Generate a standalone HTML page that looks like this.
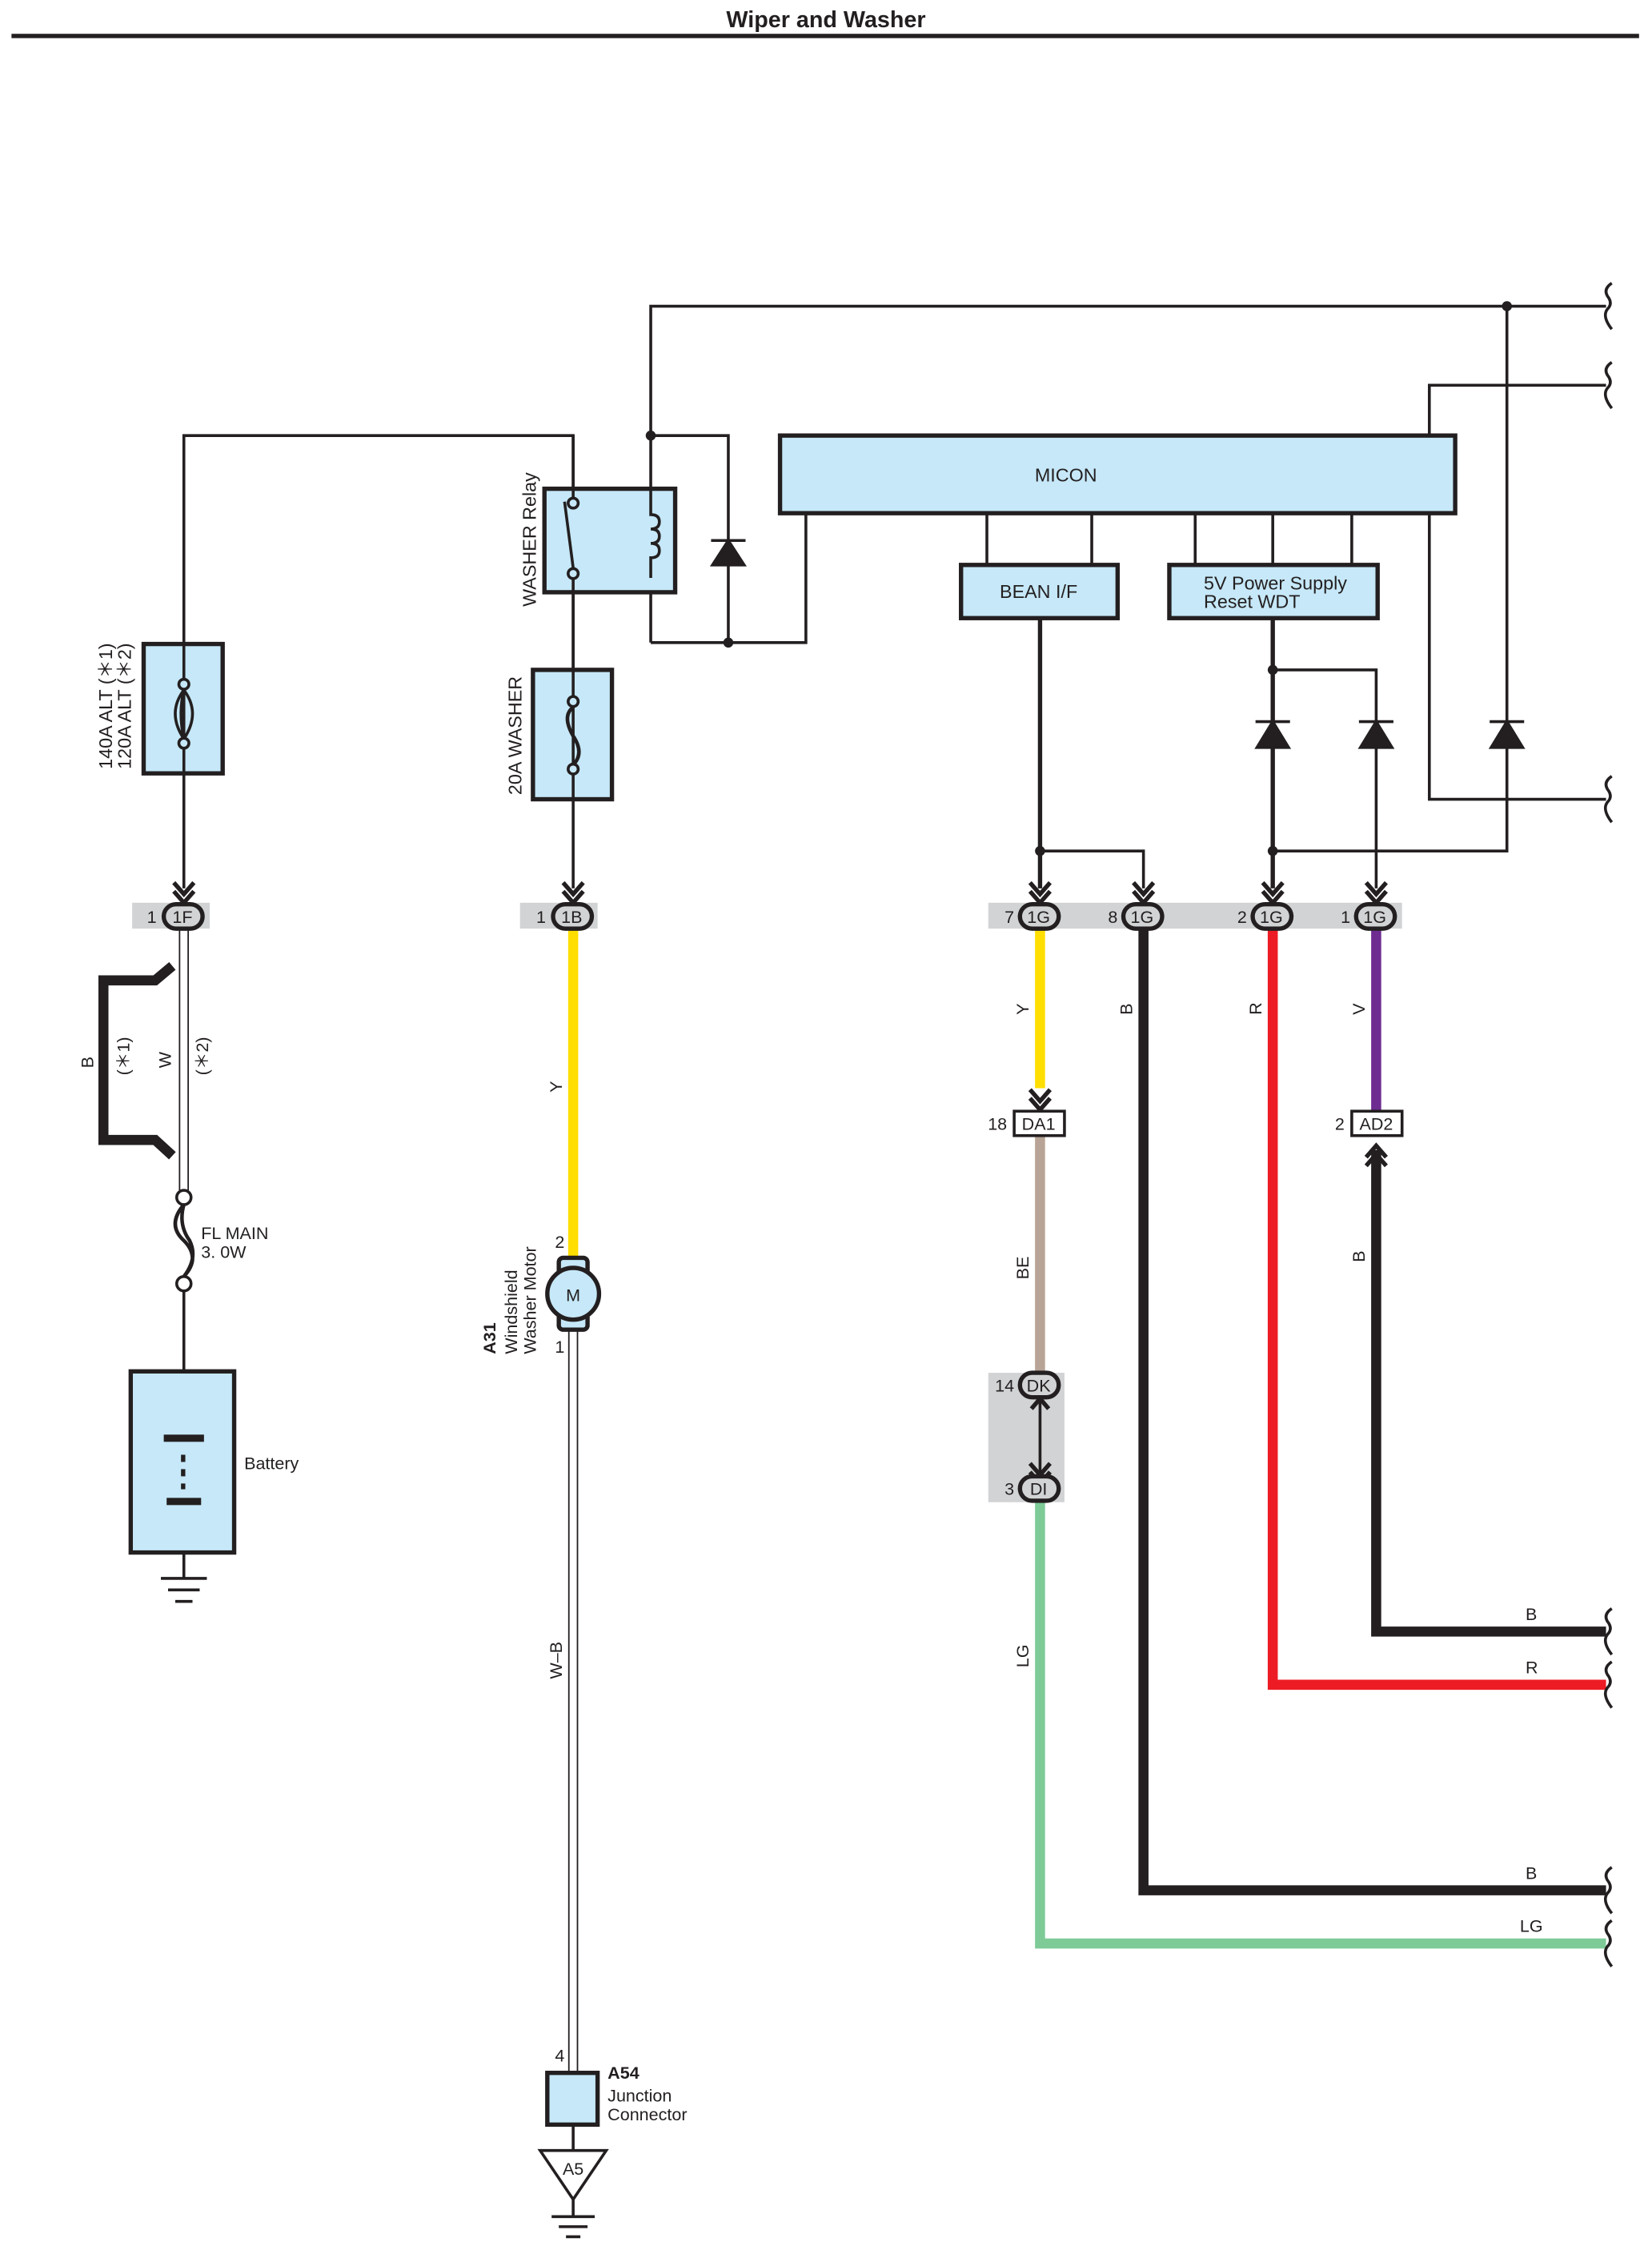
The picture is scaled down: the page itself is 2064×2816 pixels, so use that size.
<!DOCTYPE html>
<html><head><meta charset="utf-8"><style>html,body{margin:0;padding:0;background:#fff}svg{display:block}</style></head>
<body>
<svg width="2064" height="2816" viewBox="0 0 1150 1568" preserveAspectRatio="none" xmlns="http://www.w3.org/2000/svg" font-family="Liberation Sans, sans-serif">
<defs>
<g id="sq"><path d="M0,-16 q-6,4 -3,9 q4,5 0,9 q-4,5 3,14" fill="none" stroke="#231f20" stroke-width="2"/></g>
<g id="arr"><path d="M-7,-12 L0,-4 L7,-12 M-7,-6 L0,2 L7,-6" fill="none" stroke="#231f20" stroke-width="3"/></g>
</defs>
<text x="575" y="19" text-anchor="middle" font-size="16" font-weight="bold" fill="#231f20">Wiper and Washer</text>
<line x1="8" y1="25" x2="1141" y2="25" stroke="#231f20" stroke-width="3"/>

<g stroke="#231f20" stroke-width="2" fill="none">
<polyline points="453,447 453,213 1118,213"/>
<polyline points="995,303 995,268 1118,268"/>
<polyline points="995,357 995,556 1118,556"/>
<polyline points="128,618 128,303 399,303 399,618"/>
<polyline points="453,303 507,303 507,447"/>
<polyline points="453,447 561,447 561,357"/>
<line x1="687" y1="357" x2="687" y2="393"/><line x1="760" y1="357" x2="760" y2="393"/>
<line x1="832" y1="357" x2="832" y2="393"/><line x1="886" y1="357" x2="886" y2="393"/><line x1="941" y1="357" x2="941" y2="393"/>
<polyline points="724,592 796,592 796,618"/>
<polyline points="886,466 958,466 958,618"/>
<polyline points="886,592 1049,592 1049,213"/>
</g>
<g stroke="#231f20" stroke-width="3" fill="none">
<line x1="724" y1="430" x2="724" y2="618"/>
<line x1="886" y1="430" x2="886" y2="618"/>
</g>
<g fill="#231f20">
<circle cx="1049" cy="213" r="3.5"/><circle cx="453" cy="303" r="3.5"/><circle cx="507" cy="447" r="3.5"/>
<circle cx="724" cy="592" r="3.5"/><circle cx="886" cy="592" r="3.5"/><circle cx="886" cy="466" r="3.5"/>
</g>
<use href="#sq" x="1122" y="213"/><use href="#sq" x="1122" y="268"/><use href="#sq" x="1122" y="556"/>

<!-- diodes -->
<g fill="#231f20" stroke="#231f20" stroke-width="2">
<path d="M496,393 L507,376 L518,393 Z"/><line x1="495" y1="376" x2="519" y2="376"/>
<path d="M875,520 L886,502 L897,520 Z"/><line x1="874" y1="502" x2="898" y2="502"/>
<path d="M947,520 L958,502 L969,520 Z"/><line x1="946" y1="502" x2="970" y2="502"/>
<path d="M1038,520 L1049,502 L1060,520 Z"/><line x1="1037" y1="502" x2="1061" y2="502"/>
</g>

<!-- boxes -->
<g fill="#c6e8f8" stroke="#231f20" stroke-width="3">
<rect x="543" y="303" width="470" height="54"/>
<rect x="669" y="393" width="109" height="37"/>
<rect x="814" y="393" width="145" height="37"/>
<rect x="379" y="340" width="91" height="72"/>
<rect x="100" y="448" width="55" height="90"/>
<rect x="371" y="466" width="55" height="90"/>
<rect x="91" y="954" width="72" height="126"/>
<rect x="381" y="1442" width="35" height="36"/>
</g>
<g font-size="13" fill="#231f20">
<text x="742" y="335" text-anchor="middle">MICON</text>
<text x="723" y="416" text-anchor="middle">BEAN I/F</text>
<text x="838" y="410">5V Power Supply</text>
<text x="838" y="423">Reset WDT</text>
</g>
<!-- relay internals -->
<g stroke="#231f20" stroke-width="2" fill="none">
<line x1="399" y1="303" x2="399" y2="346"/><circle cx="399" cy="350" r="3.5" fill="#c6e8f8"/>
<line x1="393" y1="349" x2="399" y2="395"/><circle cx="399" cy="399" r="3.5" fill="#c6e8f8"/>
<line x1="399" y1="403" x2="399" y2="466"/>
<path d="M453,340 v18 q6,0 6,5 q0,5 -6,5 q6,0 6,5 q0,5 -6,5 q6,0 6,5 q0,5 -6,5 v14"/>
<line x1="128" y1="448" x2="128" y2="538"/>
<circle cx="128" cy="476" r="3.5" fill="#c6e8f8"/><circle cx="128" cy="517" r="3.5" fill="#c6e8f8"/>
<path d="M128,480 q-12,16 0,34 M128,480 q12,16 0,34 M128,480 q-4,16 0,34" stroke-width="2"/>
<line x1="399" y1="466" x2="399" y2="556"/>
<circle cx="399" cy="488" r="3.5" fill="#c6e8f8"/><circle cx="399" cy="535" r="3.5" fill="#c6e8f8"/>
<path d="M399,492 q-8,6 0,20 q8,12 0,20" stroke-width="2.5"/>
</g>
<g font-size="13" fill="#231f20">
<text transform="translate(373,422) rotate(-90)">WASHER Relay</text>
<text transform="translate(363,553) rotate(-90)">20A WASHER</text>
<text transform="translate(78,535) rotate(-90)">140A ALT (＊1)</text>
<text transform="translate(91,535) rotate(-90)">120A ALT (＊2)</text>
</g>

<!-- connector bars -->
<g fill="#d1d3d4">
<rect x="92" y="628" width="54" height="18"/><rect x="362" y="628" width="54" height="18"/>
<rect x="688" y="628" width="288" height="18"/><rect x="688" y="955" width="53" height="90"/>
</g>
<!-- wires colored -->
<g stroke-width="7" fill="none">
<line x1="399" y1="646" x2="399" y2="877" stroke="#ffde00"/>
<line x1="724" y1="646" x2="724" y2="757" stroke="#ffde00"/>
<line x1="724" y1="790" x2="724" y2="955" stroke="#b8a496"/>
<polyline points="724,1045 724,1352 1118,1352" stroke="#7ecb98"/>
<polyline points="796,646 796,1315 1118,1315" stroke="#231f20"/>
<polyline points="886,646 886,1172 1118,1172" stroke="#ed1c24"/>
<line x1="958" y1="646" x2="958" y2="773" stroke="#6e2c91"/>
<polyline points="958,800 958,1135 1118,1135" stroke="#231f20"/>
<path d="M120,672 L108,682 L72,682 L72,793 L108,793 L120,804" stroke="#231f20"/>
</g>
<g stroke="#231f20" stroke-width="1" fill="none">
<line x1="125" y1="646" x2="125" y2="828"/><line x1="131" y1="646" x2="131" y2="828"/>
<line x1="396" y1="922" x2="396" y2="1442"/><line x1="402" y1="922" x2="402" y2="1442"/>
</g>
<use href="#sq" x="1122" y="1135"/><use href="#sq" x="1122" y="1172"/><use href="#sq" x="1122" y="1315"/><use href="#sq" x="1122" y="1352"/>
<g stroke="#231f20" stroke-width="2" fill="none">
<line x1="724" y1="968" x2="724" y2="1030"/>
</g>
<!-- arrows -->
<use href="#arr" x="128" y="626"/><use href="#arr" x="399" y="626"/>
<use href="#arr" x="724" y="626"/><use href="#arr" x="796" y="626"/><use href="#arr" x="886" y="626"/><use href="#arr" x="958" y="626"/>
<use href="#arr" x="724" y="770"/><use href="#arr" x="724" y="1030"/>
<g fill="none" stroke="#231f20" stroke-width="3"><path d="M951,805 L958,797 L965,805 M951,811 L958,803 L965,811"/><path d="M718,980 L724,973 L730,980"/></g>

<!-- connector ovals -->
<g fill="#d1d3d4" stroke="#231f20" stroke-width="3">
<rect x="114" y="629" width="27" height="17" rx="8.5"/><rect x="385" y="629" width="27" height="17" rx="8.5"/>
<rect x="710" y="629" width="27" height="17" rx="8.5"/><rect x="782" y="629" width="27" height="17" rx="8.5"/>
<rect x="872" y="629" width="27" height="17" rx="8.5"/><rect x="944" y="629" width="27" height="17" rx="8.5"/>
<rect x="710" y="955" width="27" height="17" rx="8.5"/><rect x="710" y="1027" width="27" height="17" rx="8.5"/>
</g>
<g fill="#fff" stroke="#231f20" stroke-width="2">
<rect x="706" y="773" width="35" height="17"/><rect x="941" y="773" width="35" height="17"/>
</g>
<g font-size="12" fill="#231f20" text-anchor="middle">
<text x="127" y="642">1F</text><text x="398" y="642">1B</text>
<text x="723" y="642">1G</text><text x="795" y="642">1G</text><text x="885" y="642">1G</text><text x="957" y="642">1G</text>
<text x="723" y="968">DK</text><text x="723" y="1040">DI</text>
<text x="723" y="786">DA1</text><text x="958" y="786">AD2</text>
</g>
<g font-size="12" fill="#231f20" text-anchor="end">
<text x="109" y="642">1</text><text x="380" y="642">1</text><text x="706" y="642">7</text><text x="778" y="642">8</text>
<text x="868" y="642">2</text><text x="940" y="642">1</text><text x="701" y="786">18</text><text x="936" y="786">2</text>
<text x="706" y="968">14</text><text x="706" y="1040">3</text>
<text x="393" y="868">2</text><text x="393" y="941">1</text><text x="393" y="1434">4</text>
</g>
<g font-size="12" fill="#231f20">
<text transform="translate(716,706) rotate(-90)">Y</text>
<text transform="translate(788,706) rotate(-90)">B</text>
<text transform="translate(878,706) rotate(-90)">R</text>
<text transform="translate(950,706) rotate(-90)">V</text>
<text transform="translate(716,890) rotate(-90)">BE</text>
<text transform="translate(950,878) rotate(-90)">B</text>
<text transform="translate(716,1160) rotate(-90)">LG</text>
<text transform="translate(391,760) rotate(-90)">Y</text>
<text transform="translate(391,1168) rotate(-90)">W–B</text>
<text transform="translate(65,743) rotate(-90)">B</text>
<text transform="translate(90,748) rotate(-90)">(＊1)</text>
<text transform="translate(119,743) rotate(-90)">W</text>
<text transform="translate(145,748) rotate(-90)">(＊2)</text>
<text x="1062" y="1127">B</text><text x="1062" y="1164">R</text><text x="1062" y="1307">B</text><text x="1058" y="1344">LG</text>
<text x="140" y="862">FL MAIN</text><text x="140" y="875">3. 0W</text>
<text x="170" y="1022">Battery</text>
<text transform="translate(360,942) rotate(-90)">Windshield</text>
<text transform="translate(373,942) rotate(-90)">Washer Motor</text>
<text transform="translate(345,942) rotate(-90)" font-weight="bold">A31</text>
<text x="423" y="1446" font-weight="bold">A54</text>
<text x="423" y="1462">Junction</text><text x="423" y="1475">Connector</text>
</g>
<!-- FL main fuse -->
<g stroke="#231f20" stroke-width="2" fill="none">
<circle cx="128" cy="833" r="5" fill="#fff"/><circle cx="128" cy="893" r="5" fill="#fff"/>
<path d="M128,838 q-12,14 0,25 q12,12 0,25 M128,838 q-4,14 4,25 q6,12 -4,25" stroke-width="2.5"/>
<line x1="128" y1="898" x2="128" y2="954"/><line x1="128" y1="1080" x2="128" y2="1098"/>
<line x1="112" y1="1098" x2="144" y2="1098"/><line x1="117" y1="1106" x2="139" y2="1106"/><line x1="122" y1="1114" x2="134" y2="1114"/>
</g>
<g fill="#231f20">
<rect x="114" y="998" width="28" height="5"/><rect x="116" y="1042" width="24" height="5"/>
<rect x="126" y="1012" width="3" height="5"/><rect x="126" y="1022" width="3" height="5"/><rect x="126" y="1032" width="3" height="4"/>
</g>
<!-- motor -->
<g stroke="#231f20" stroke-width="3">
<rect x="389" y="875" width="20" height="50" rx="3" fill="#c6e8f8"/>
<circle cx="399" cy="900" r="18" fill="#c6e8f8"/>
</g>
<text x="399" y="905" text-anchor="middle" font-size="12" fill="#231f20">M</text>
<line x1="399" y1="1478" x2="399" y2="1496" stroke="#231f20" stroke-width="2"/>
<path d="M376,1496 L422,1496 L399,1530 Z" fill="#fff" stroke="#231f20" stroke-width="2"/>
<text x="399" y="1513" text-anchor="middle" font-size="12" fill="#231f20">A5</text>
<g stroke="#231f20" stroke-width="2"><line x1="399" y1="1530" x2="399" y2="1542"/><line x1="384" y1="1542" x2="414" y2="1542"/><line x1="389" y1="1549" x2="409" y2="1549"/><line x1="394" y1="1556" x2="404" y2="1556"/></g>
</svg>
</body></html>
